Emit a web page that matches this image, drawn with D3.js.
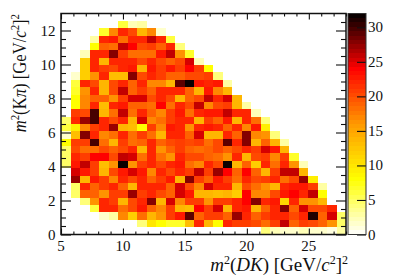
<!DOCTYPE html>
<html>
<head>
<meta charset="utf-8">
<script src="https://cdn.jsdelivr.net/npm/d3@7"></script>
<style>
html, body { margin: 0; padding: 0; background: #fff; }
svg { display: block; }
text { font-family: "Liberation Serif", "Times New Roman", serif; fill: #111; }
.axis path { display: none; }
.axis line { stroke: #111; stroke-width: 1.1; }
</style>
</head>
<body>
<script>
const width = 407;
const height = 276;

const xMajor = [5, 10, 15, 20, 25];
const xMinor = [6, 7, 8, 9, 11, 12, 13, 14, 16, 17, 18, 19, 21, 22, 23, 24, 26, 27, 28];
const yMajor = [0, 2, 4, 6, 8, 10, 12];
const yMinor = [0.5, 1, 1.5, 2.5, 3, 3.5, 4.5, 5, 5.5, 6.5, 7, 7.5, 8.5, 9, 9.5, 10.5, 11, 11.5, 12.5];
const zTicks = [0, 5, 10, 15, 20, 25, 30];

const nBins = 30;
const zMax = 32;
const nContours = 50;

// first filled bin of each row, rows run from the top of the plot down
const firstBin = [0, 6, 4, 3, 3, 2, 2, 2, 1, 1, 1, 1, 1, 1, 0, 0, 0, 0, 0, 0, 0, 1, 1, 1, 1, 2, 3, 4, 8, 21];
const counts = [
    [],
    [6, 2, 3],
    [7, 17, 22, 20, 14, 17, 1.5],
    [3, 22, 23, 18, 22, 22, 26, 22, 6],
    [8, 19, 18, 26, 24, 20, 21, 19, 22, 4],
    [2, 22, 22, 28, 21, 18, 18, 18, 23, 26, 16, 7],
    [12, 22, 14, 22, 22, 22, 20, 22, 20, 19, 20, 25, 2],
    [12, 22, 21, 20, 22, 23, 14, 23, 21, 23, 21, 24, 21, 8],
    [1.5, 12, 16, 22, 13, 13, 28, 20, 22, 21, 19, 19, 20, 20, 21, 4],
    [6, 22, 20, 14, 20, 22, 19, 22, 17, 17, 14, 29, 32, 23, 22, 23, 3],
    [7, 16, 22, 14, 20, 26, 19, 21, 19, 22, 22, 22, 19, 14, 23, 17, 14],
    [8, 17, 19, 19, 16, 21, 25, 25, 20, 22, 20, 14, 19, 20, 26, 22, 25, 14],
    [8, 17, 22, 13, 22, 23, 19, 19, 18, 24, 18, 22, 20, 26, 17, 20, 21, 14, 3],
    [21, 20, 30, 14, 18, 26, 18, 22, 19, 17, 21, 23, 18, 22, 23, 23, 26, 22, 22, 2],
    [5, 22, 27, 30, 22, 20, 22, 14, 25, 17, 18, 21, 22, 22, 14, 21, 19, 23, 14, 22, 18, 4],
    [6, 9, 17, 21, 22, 27, 14, 13, 8, 21, 17, 23, 22, 16, 22, 23, 22, 19, 22, 17, 23, 9],
    [1.5, 13, 28, 22, 17, 18, 22, 18, 21, 18, 14, 22, 22, 19, 25, 14, 14, 22, 19, 28, 17, 16, 4],
    [8, 21, 21, 30, 18, 14, 21, 18, 19, 22, 19, 20, 21, 20, 21, 18, 20, 29, 22, 28, 14, 19, 14, 3],
    [5, 20, 18, 18, 20, 19, 20, 22, 14, 22, 16, 19, 21, 19, 18, 19, 20, 19, 20, 22, 21, 25, 23, 14],
    [5, 22, 21, 24, 24, 20, 26, 25, 18, 22, 18, 16, 22, 20, 20, 19, 18, 16, 22, 14, 20, 21, 17, 21, 7],
    [5, 23, 26, 21, 13, 16, 32, 16, 21, 22, 20, 22, 23, 18, 17, 22, 20, 32, 14, 19, 12, 22, 18, 22, 16, 2],
    [25, 23, 21, 14, 20, 23, 25, 23, 17, 22, 20, 22, 21, 26, 21, 27, 24, 19, 24, 19, 14, 21, 26, 26, 14],
    [27, 14, 23, 21, 17, 22, 20, 22, 19, 21, 23, 14, 28, 21, 19, 23, 21, 18, 22, 20, 21, 22, 18, 20, 27, 9],
    [5, 22, 19, 21, 22, 19, 14, 22, 22, 22, 19, 25, 20, 17, 25, 22, 22, 14, 20, 18, 16, 14, 22, 23, 23, 21, 3],
    [5, 19, 19, 16, 21, 21, 27, 21, 22, 20, 19, 25, 23, 14, 14, 13, 14, 12, 24, 17, 17, 20, 23, 24, 22, 26, 8],
    [4, 16, 22, 21, 14, 20, 22, 28, 14, 25, 17, 21, 21, 16, 21, 21, 22, 24, 28, 22, 23, 11, 22, 16, 16, 14],
    [6, 22, 22, 18, 20, 23, 19, 17, 21, 14, 13, 24, 21, 25, 14, 22, 23, 14, 19, 22, 28, 19, 25, 20, 20, 22],
    [1.5, 3, 17, 12, 18, 14, 16, 21, 23, 29, 19, 21, 21, 19, 27, 22, 19, 21, 22, 22, 20, 22, 31, 19, 25, 5],
    [4, 10, 8, 7, 7, 13, 22, 14, 8, 22, 21, 21, 20, 18, 21, 26, 19, 21, 20, 19, 16, 5],
    [4, 2, 1.5, 1.5, 2, 1.5, 1.5, 1, 3]
];

const svg = d3.select("body").append("svg")
    .attr("width", width)
    .attr("height", height);

const x = d3.scaleLinear().domain([5, 28]).range([61, 346]);
const y = d3.scaleLinear().domain([0, 13]).range([234.5, 13.5]);
const z = d3.scaleLinear().domain([0, zMax]).range([234.5, 13.5]);

const palette = d3.scaleLinear()
    .domain([0, 8, 16, 24, 32])
    .range(["#ffffff", "#ffff00", "#ff9900", "#ff0000", "#000000"]);

// ROOT draws with a fixed number of contour levels
function levelColor(v) {
    const level = Math.floor(v / zMax * nContours);
    return palette((Math.min(level, nContours - 1) + 0.5) * zMax / nContours);
}

const xEdge = i => 5 + i * 23 / nBins;
const yEdge = i => 13 - i * 13 / nBins;

const cells = [];
counts.forEach((row, r) => {
    row.forEach((v, k) => cells.push({ r: r, c: firstBin[r] + k, v: v }));
});

svg.append("g")
    .selectAll("rect")
    .data(cells)
    .join("rect")
    .attr("x", d => x(xEdge(d.c)))
    .attr("y", d => y(yEdge(d.r)))
    .attr("width", d => x(xEdge(d.c + 1)) - x(xEdge(d.c)))
    .attr("height", d => y(yEdge(d.r + 1)) - y(yEdge(d.r)))
    .attr("fill", d => levelColor(d.v))
    .attr("shape-rendering", "crispEdges");

// colour bar
const barLeft = 348;
const barRight = 366;
svg.append("g")
    .selectAll("rect")
    .data(d3.range(nContours))
    .join("rect")
    .attr("x", barLeft)
    .attr("y", i => z((i + 1) * zMax / nContours))
    .attr("width", barRight - barLeft)
    .attr("height", i => z(i * zMax / nContours) - z((i + 1) * zMax / nContours))
    .attr("fill", i => palette((i + 0.5) * zMax / nContours))
    .attr("shape-rendering", "crispEdges");

function ticks(axis, scale, values, size, translate) {
    svg.append("g")
        .attr("class", "axis")
        .attr("transform", translate)
        .call(axis(scale).tickValues(values).tickSize(size).tickFormat(""));
}

// inside ticks on all four sides, labels only on bottom and left
ticks(d3.axisBottom, x, xMajor, -6, "translate(0,234.5)");
ticks(d3.axisBottom, x, xMinor, -3, "translate(0,234.5)");
ticks(d3.axisTop, x, xMajor, -6, "translate(0,13.5)");
ticks(d3.axisTop, x, xMinor, -3, "translate(0,13.5)");
ticks(d3.axisLeft, y, yMajor, -10, "translate(61,0)");
ticks(d3.axisLeft, y, yMinor, -5, "translate(61,0)");
ticks(d3.axisRight, y, yMajor, -10, "translate(346,0)");
ticks(d3.axisRight, y, yMinor, -5, "translate(346,0)");
ticks(d3.axisRight, z, zTicks, -9, `translate(${barRight},0)`);

svg.append("rect")
    .attr("x", x(5))
    .attr("y", y(13))
    .attr("width", x(28) - x(5))
    .attr("height", y(0) - y(13))
    .attr("fill", "none")
    .attr("stroke", "#111")
    .attr("stroke-width", 1.5);

svg.append("rect")
    .attr("x", barLeft)
    .attr("y", z(zMax))
    .attr("width", barRight - barLeft)
    .attr("height", z(0) - z(zMax))
    .attr("fill", "none")
    .attr("stroke", "#333")
    .attr("stroke-width", 1);

// tick labels
svg.append("g").selectAll("text").data(xMajor).join("text")
    .attr("x", d => x(d))
    .attr("y", 251)
    .attr("text-anchor", "middle")
    .attr("font-size", 15)
    .text(d => d);

svg.append("g").selectAll("text").data(yMajor).join("text")
    .attr("x", 55.5)
    .attr("y", d => y(d) + 5)
    .attr("text-anchor", "end")
    .attr("font-size", 15)
    .text(d => d);

svg.append("g").selectAll("text").data(zTicks).join("text")
    .attr("x", 368)
    .attr("y", d => z(d) + 5)
    .attr("font-size", 15)
    .text(d => d);

// titles built from tspans so the italics and superscripts stay real text
function title(sel, parts) {
    parts.forEach(p => {
        const t = sel.append("tspan").text(p.t);
        if (p.i) t.attr("font-style", "italic");
        if (p.up) t.attr("dy", -7).attr("font-size", 12);
        if (p.down) t.attr("dy", 7);
    });
}

const xTitle = svg.append("text")
    .attr("x", 348)
    .attr("y", 271)
    .attr("text-anchor", "end")
    .attr("font-size", 19);
title(xTitle, [
    { t: "m", i: true }, { t: "2", up: true }, { t: "(", down: true },
    { t: "DK", i: true }, { t: ") [GeV/" }, { t: "c", i: true },
    { t: "2", up: true }, { t: "]", down: true }, { t: "2", up: true }
]);

// the vertical title is squeezed along its length in the original
const yTitle = svg.append("text")
    .attr("transform", "translate(26,14) rotate(-90) scale(0.9,1)")
    .attr("text-anchor", "end")
    .attr("font-size", 18.5);
title(yTitle, [
    { t: "m", i: true }, { t: "2", up: true }, { t: "(K", down: true },
    { t: "\u03c0", i: true }, { t: ") [GeV/" }, { t: "c", i: true },
    { t: "2", up: true }, { t: "]", down: true }, { t: "2", up: true }
]);
</script>
</body>
</html>
